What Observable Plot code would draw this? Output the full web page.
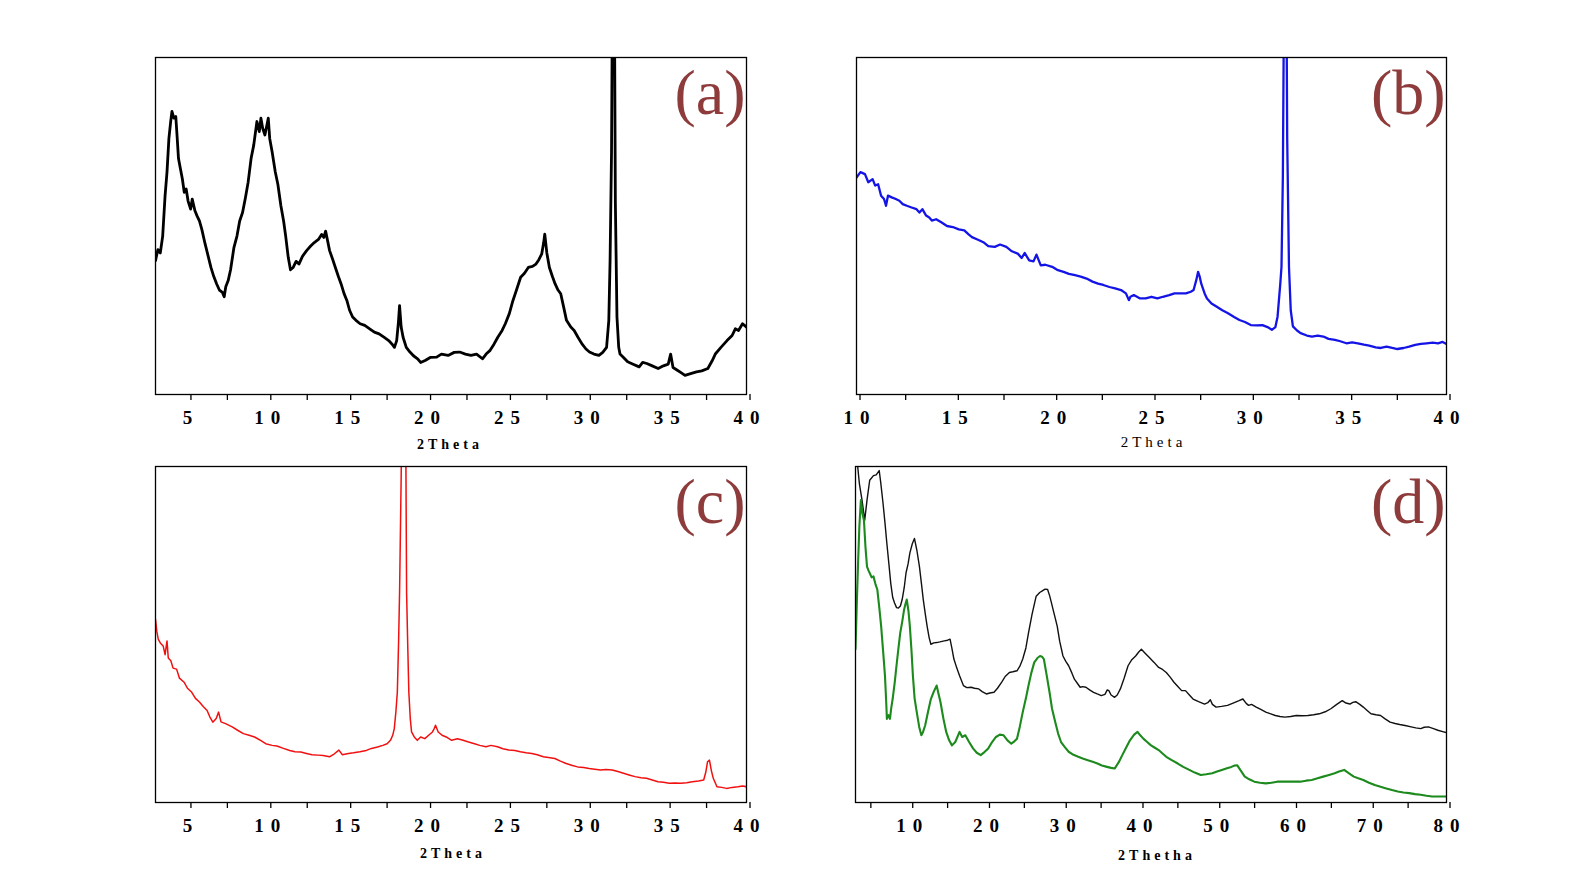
<!DOCTYPE html>
<html><head><meta charset="utf-8">
<script src="https://cdn.jsdelivr.net/npm/d3@7"></script>
<script src="https://cdn.jsdelivr.net/npm/@observablehq/plot@0.6"></script>
<style>
html,body{margin:0;padding:0;background:#fff;}
body{width:1570px;height:884px;position:relative;overflow:hidden;}
.panel{position:absolute;}
.panel svg{overflow:visible;background:transparent;}
.panel g[aria-label="x-axis tick label"] text{letter-spacing:7px;}
.panel g[aria-label="x-axis tick"]{stroke-width:1.3px;}
</style></head><body>
<div id="pa" class="panel"></div>
<div id="pb" class="panel"></div>
<div id="pc" class="panel"></div>
<div id="pd" class="panel"></div>
<script>
// ---------- Data (2θ in degrees, intensity in arbitrary units, 0–100 = frame height) ----------
const twoThetaA = [3.0,3.15,3.3,3.45,3.6,3.72,3.84,3.95,4.03,4.15,4.27,4.36,4.44,4.56,4.68,4.8,4.92,5.04,5.2,5.3,5.47,5.6,5.75,5.9,6.11,6.3,6.47,6.65,6.83,7.0,7.19,7.3,7.4,7.55,7.7,7.91,8.1,8.27,8.45,8.63,8.8,8.99,9.15,9.35,9.5,9.6,9.71,9.85,10.06,10.15,10.3,10.5,10.66,10.85,11.02,11.15,11.31,11.45,11.62,11.8,11.98,12.2,12.46,12.7,12.94,13.2,13.4,13.54,13.65,13.9,14.1,14.26,14.45,14.62,14.8,14.98,15.15,15.34,15.55,15.81,16.1,16.41,16.7,17.0,17.3,17.6,17.8,17.96,18.1,18.2,18.28,18.38,18.5,18.7,18.93,19.15,19.41,19.6,19.88,20.2,20.6,20.9,21.32,21.7,22.04,22.4,22.75,23.1,23.47,23.7,23.95,24.2,24.43,24.7,24.9,25.15,25.38,25.6,25.86,26.1,26.34,26.6,26.82,27.0,27.18,27.3,27.37,27.5,27.66,27.85,28.02,28.2,28.37,28.55,28.73,29.0,29.21,29.45,29.69,29.95,30.17,30.45,30.76,31.0,31.24,31.38,31.46,31.55,31.62,31.72,31.79,31.89,32.0,32.08,32.3,32.56,32.9,33.28,33.5,33.76,34.1,34.47,34.8,35.1,35.25,35.4,35.67,35.9,36.15,36.5,36.87,37.2,37.58,37.85,38.06,38.4,38.78,39.1,39.3,39.5,39.75,40.0];
const intensityA = [39.7,43,42,47,59,66,76,81,84,82,82.5,76,70,67,64,60,61,57.4,55,58,54.5,53,51.5,49,44.6,41,37.7,35,32.8,31,30.3,29,32,33.8,37,43.6,47,51.5,54,58.4,63,70.2,74,81,78,82,79,77,82,76,72,66,62.4,56,51.5,47,40.7,37,37.7,39.5,38.7,41,42.7,44,45.1,46,47.5,46.6,48.5,42.7,40,37.7,35,32.8,30,27.9,25,23,22,21,20.5,19.5,18.5,18,17,16,15,14,16,21,26.4,20,17,14,12.6,11.5,10.6,9.5,10.1,11,11.1,12,11.6,12.5,12.6,12,11.6,12,10.6,12,13.1,15,17,19,21,24,27.9,31,34.8,36,37.7,38,38.7,40,41.7,45,47.6,42,37.7,35,32.8,31,29.9,26,22,20,19,17,15.1,13.5,12.6,12,11.6,12.5,14,22,40,72,130,130,57,23,14,12,11,9.7,9,8.2,9.5,9.2,8.5,7.7,8.5,9,12,8,7.2,6.5,5.7,6.2,6.7,7,7.7,10,12.1,14,16,17.5,19.5,19,21,20];

const twoThetaB = [10.0,10.2,10.43,10.6,10.82,10.95,11.1,11.25,11.4,11.5,11.6,11.79,12.0,12.18,12.35,12.56,12.8,13.05,13.2,13.35,13.54,13.7,13.83,14.05,14.31,14.6,14.9,15.2,15.48,15.7,15.87,16.15,16.45,16.7,17.03,17.3,17.62,17.9,18.2,18.4,18.55,18.78,19.0,19.15,19.37,19.6,19.95,20.2,20.53,20.8,21.11,21.4,21.7,22.0,22.28,22.55,22.86,23.15,23.45,23.7,23.85,23.93,24.1,24.42,24.7,25.0,25.3,25.58,25.9,26.17,26.45,26.75,27.0,27.14,27.28,27.37,27.45,27.53,27.7,27.82,28.05,28.3,28.6,28.89,29.2,29.47,29.75,30.05,30.35,30.64,30.9,31.12,31.3,31.41,31.55,31.61,31.68,31.74,31.86,31.9,31.95,31.99,32.08,32.19,32.4,32.58,32.9,33.16,33.45,33.74,34.0,34.33,34.6,34.91,35.2,35.49,35.8,36.07,36.4,36.66,36.95,37.24,37.5,37.82,38.1,38.41,38.7,38.99,39.3,39.57,39.8,40.0];
const intensityB = [64.4,66,65.4,63,63.9,62,62.4,59,58,56,59,58.5,58,57.5,56.5,56,55.5,55,54,55,53.1,52.5,51.6,52,51.1,50,49.7,49,48.7,47.5,46.7,46,45.2,44,43.8,44.5,43.8,42.5,41.8,40.5,42,39.8,39.5,41.5,38.3,38.5,37.9,37,36.4,35.8,35.4,35,34.4,33.5,32.9,32.5,31.9,31.5,31,30,28,29,29.5,28.5,28.5,29,28.5,29,29.5,30,30,30,30.5,31,34,36.4,35,32.9,30,28.5,27,26.1,25,24.1,23,22.1,21.5,20.6,20.5,20.6,20,19.2,20,23.1,33,37.9,65,120,120,76,55,37.9,25,20.2,19,18.2,17.5,17.2,17.5,17.2,16.5,16.2,15.8,15.2,15.5,15.2,14.8,14.5,14,13.8,14.2,13.8,13.5,13.8,14.2,14.7,15,15.2,15.4,15.2,15.6,15];

const twoThetaC = [3.0,3.08,3.17,3.3,3.48,3.6,3.72,3.8,3.96,4.1,4.32,4.5,4.79,5.0,5.27,5.5,5.75,6.0,6.23,6.4,6.59,6.8,6.95,7.1,7.42,7.8,8.14,8.5,8.86,9.2,9.58,9.9,10.3,10.6,11.01,11.4,11.73,12.1,12.45,12.8,13.17,13.5,13.89,14.2,14.48,14.7,15.08,15.4,15.8,16.2,16.52,16.9,17.23,17.5,17.71,17.85,17.95,18.05,18.14,18.22,18.28,18.38,18.45,18.65,18.72,18.8,18.86,18.95,19.03,19.2,19.39,19.6,19.86,20.1,20.34,20.45,20.53,20.7,20.94,21.2,21.54,21.9,22.26,22.6,22.97,23.3,23.69,24.0,24.41,24.75,25.12,25.5,25.84,26.2,26.56,26.9,27.28,27.6,28.0,28.35,28.71,29.1,29.43,29.8,30.15,30.5,30.87,31.2,31.59,31.95,32.3,32.65,33.02,33.4,33.74,34.1,34.46,34.8,35.17,35.5,35.89,36.25,36.61,37.0,37.32,37.45,37.56,37.68,37.8,37.92,38.15,38.45,38.75,39.1,39.47,39.75,40.0];
const intensityC = [54.5,51,48.6,47.5,46.6,44,48.1,43,42.2,40,39.7,37,35.8,34,32.8,31,29.9,28.5,27.4,25.5,23.9,25,26.9,24,23.4,22.5,21.5,20.5,20,19.5,18.5,17.5,17,16.8,16.1,15.5,15.1,15,14.6,14.2,14.1,14,13.6,14.5,15.6,14.2,14.6,14.8,15.1,15.5,16.1,16.5,17,17.5,18.5,20,22,27,32.8,48,62.4,96.8,125,125,62.4,45,32.8,25,21,19.5,18.5,19.5,19,20,21,22,23,21,20,19.5,18.5,19,18.5,18,17.5,17,16.6,17,16.6,16,15.6,15.5,15.1,14.8,14.6,14.2,13.6,13.4,13.1,12.3,11.6,11,10.6,10.4,10.1,9.9,9.7,9.8,9.7,9.2,8.7,8.2,7.7,7.4,7.2,6.7,6.2,6,5.7,5.8,5.7,5.9,6.2,6.4,6.7,9,12.1,12.6,9.5,7.2,4.7,4.5,4.2,4.5,4.7,4.9,4.7];

const twoThetaD1 = [3.2,3.5,3.85,4.2,4.5,4.85,5.34,5.7,6.09,6.3,6.59,6.85,7.09,7.35,7.59,7.85,8.09,8.35,8.59,8.85,9.08,9.35,9.58,9.85,10.08,10.4,10.68,11.0,11.33,11.6,11.83,12.1,12.33,12.6,12.82,13.2,13.57,14.0,14.57,15.0,15.32,15.55,15.82,16.2,16.56,17.06,17.5,18.06,18.5,19.06,19.5,20.05,20.5,21.05,21.5,22.05,22.5,23.05,23.5,24.04,24.4,24.79,25.2,25.54,26.0,26.54,27.0,27.29,27.7,28.03,28.3,28.53,28.9,29.28,29.6,30.03,30.4,30.77,31.2,31.52,31.9,32.27,32.6,33.02,33.5,34.02,34.5,35.02,35.5,35.8,36.01,36.3,36.76,37.1,37.51,38.0,38.51,39.0,39.5,39.9,40.25,40.7,41.25,41.9,42.5,43.0,43.49,44.0,44.49,45.0,45.49,45.99,46.5,46.98,47.7,48.48,48.9,49.23,49.5,49.98,50.7,51.47,52.2,52.97,53.47,53.9,54.21,54.6,55.21,55.8,56.46,57.1,57.7,58.3,58.95,59.7,60.44,61.2,61.94,62.7,63.43,64.2,64.93,65.7,66.42,66.9,67.42,67.8,68.17,68.7,69.16,69.7,70.16,70.8,71.41,72.0,72.65,73.3,73.9,74.6,75.39,76.0,76.64,77.1,77.64,78.3,78.88,79.5,80.0];
const intensityD1 = [102,95,90,84,90,95.9,97.3,97.5,98.8,95,89,83,77,71,65.3,61,59.4,58,57.9,58.5,60.4,64,68.3,71,74.2,77,78.6,75,70.2,65,60.4,56,52.5,49,47.1,47.5,47.6,47.8,48.1,48.3,48.6,46,42.7,40,37.7,34.8,34.2,34.3,34,33.8,33,32.3,32.6,32.8,34,35.8,37.5,38.7,38.9,39.2,40.5,42.7,46,50.5,56,61.4,62.5,62.9,63.5,63.4,61.5,59.4,56,52.5,48,43.6,42,40.7,38.5,36.7,35.5,34.3,34.5,34.3,33.5,32.8,32.3,31.8,32.2,33.5,33.3,32,31.3,32,33.8,37,40.7,42.5,43.6,44.8,45.6,44.5,43.2,41.7,40.2,39.6,38.7,37.3,35.8,34.5,33.3,33.3,32,30.8,30,29.3,29.7,30.6,29.2,28.4,28.6,28.9,29.6,30.3,30.8,29.5,28.9,29.2,28.4,27.7,26.9,26.4,25.9,25.6,25.4,25.6,25.9,25.8,25.9,26.1,26.4,27,27.9,29.2,30.3,29.6,29.3,29.8,30,29.2,28.4,27.3,26.4,26.1,25.9,24.9,23.9,23.5,23.2,22.9,22.5,22.2,22,22.4,22.5,22,21.5,21.1,20.8];

const twoThetaD2 = [3.0,3.18,3.35,3.5,3.7,3.9,4.1,4.3,4.5,4.7,4.85,5.1,5.34,5.6,5.84,6.1,6.34,6.6,6.84,7.0,7.09,7.3,7.49,7.65,7.84,8.1,8.34,8.6,8.83,9.1,9.33,9.5,9.68,9.9,10.08,10.3,10.48,10.7,10.98,11.3,11.58,11.8,12.08,12.45,12.82,13.2,13.57,13.8,14.07,14.45,14.82,15.2,15.57,16.0,16.56,16.9,17.31,17.8,18.31,18.8,19.31,19.8,20.3,20.8,21.3,21.8,22.3,22.8,23.3,23.7,24.04,24.4,24.79,25.2,25.54,25.9,26.29,26.7,27.04,27.3,27.54,27.9,28.28,28.6,29.03,29.4,29.78,30.3,30.77,31.4,32.02,32.6,33.27,33.9,34.52,35.1,35.76,36.3,36.76,37.3,37.76,38.3,38.76,39.3,39.75,40.1,40.5,41.0,41.5,42.0,42.5,43.0,43.49,44.2,44.99,45.7,46.49,47.2,47.98,48.7,49.48,50.1,50.73,51.4,51.97,52.4,52.72,53.2,53.72,54.3,54.96,55.7,56.46,57.2,57.95,58.7,59.45,60.2,60.94,61.7,62.44,63.2,63.93,64.7,65.43,66.0,66.67,67.3,67.92,68.5,69.16,69.9,70.66,71.4,72.15,72.9,73.65,74.4,75.14,75.9,76.64,77.4,78.13,79.0,80.0];
const intensityD2 = [45.6,60,72.2,82,90,86,84,76,70.2,69,68.3,67,67.3,65,63.4,58,52.5,45,37.7,30,24.9,26,24.9,28,30.8,35.5,40.7,46,50.5,54,57.4,59,60.4,57,52.5,45,37.7,31,26.9,22.5,20,21,23,27,30.8,33,34.8,32.5,29.9,25,21,18.5,17,18,21,19.5,20,18,16.1,14.8,14.1,15,16.1,18,19.5,20.2,20,18.5,17.5,18.2,19,22.5,26.9,31,34.8,38.5,41.7,43,43.6,43.4,42.7,38,32.8,28,23.9,20.5,18,16.4,15.1,14.2,13.6,13.1,12.6,12.1,11.6,11,10.6,10.3,10.1,12,14.1,16.5,18.5,20.2,21,20,19,18,17,16.3,15.6,14.6,13.6,12.6,11.6,10.6,9.7,8.9,8.2,8.4,8.7,9.2,9.7,10.2,10.6,11,11.1,9.5,7.7,6.9,6.2,5.9,5.7,5.9,6.2,6.2,6.2,6.2,6.2,6.5,6.7,7.2,7.7,8.2,8.7,9.2,9.7,8.7,7.7,7.2,6.7,5.9,5.2,4.7,4.2,3.7,3.3,3.0,2.8,2.5,2.3,2.0,1.8,1.8,1.8];

const ticksAC = [5, 10, 15, 20, 25, 30, 35, 40];
const minorAC = [7.5, 12.5, 17.5, 22.5, 27.5, 32.5, 37.5];
const ticksB = [10, 15, 20, 25, 30, 35, 40];
const minorB = [12.5, 17.5, 22.5, 27.5, 32.5, 37.5];
const ticksD = [10, 20, 30, 40, 50, 60, 70, 80];
const minorD = [5, 15, 25, 35, 45, 55, 65, 75];
const panelLabels = ["(a)", "(b)", "(c)", "(d)"];
const axisTitles = ["2Theta", "2Theta", "2Theta", "2Thetha"];

// ---------- Drawing ----------
const SERIF = "'Liberation Serif', 'Times New Roman', serif";

function panel(el, cfg) {
  const host = document.getElementById(el);
  host.style.left = cfg.left + "px";
  host.style.top = cfg.top + "px";
  const marks = [];
  for (const s of cfg.series) {
    marks.push(Plot.line(s.x, {x: s.x, y: s.y, stroke: s.color, strokeWidth: s.width, clip: true, curve: "linear"}));
  }
  marks.push(Plot.frame({stroke: "#000", strokeWidth: 1.3}));
  marks.push(Plot.axisX(cfg.minor, {tickSize: 6, text: null, label: null}));
  marks.push(Plot.axisX(cfg.major, {tickSize: 6, tickPadding: 10, label: null, fontSize: 19, fontWeight: "bold", fontFamily: SERIF, fill: "#000", dx: 3.5, tickFormat: d => String(d)}));
  marks.push(Plot.text([cfg.label], {text: d => d, frameAnchor: "top-right", textAnchor: "end", lineAnchor: "bottom", dy: 56, dx: -1, fontSize: 64, fontFamily: SERIF, fill: "#8E3B3B"}));
  marks.push(Plot.text([cfg.title], {text: d => d, frameAnchor: "bottom", lineAnchor: "bottom", dy: cfg.titleDy, dx: cfg.titleDx + 2, fontSize: cfg.titleBold ? 14 : 15, fontWeight: cfg.titleBold ? "bold" : "normal", fontFamily: SERIF, fill: "#000"}));
  const svg = Plot.plot({
    width: cfg.width, height: cfg.height,
    marginLeft: cfg.ml, marginRight: cfg.width - cfg.ml - cfg.fw,
    marginTop: cfg.mt, marginBottom: cfg.height - cfg.mt - cfg.fh,
    x: {domain: cfg.domain},
    y: {domain: [0, 100], axis: null},
    style: {background: "transparent", fontFamily: SERIF},
    marks
  });
  host.appendChild(svg);
  d3.select(svg).selectAll("text").filter(function() { return this.textContent === cfg.title; })
    .style("letter-spacing", "4px");
}

panel("pa", {left: 95, top: 37, width: 700, height: 440, ml: 60, mt: 20, fw: 591, fh: 337,
  domain: [3, 40], major: ticksAC, minor: minorAC, label: panelLabels[0], title: axisTitles[0], titleBold: true, titleDy: 54, titleDx: -3,
  series: [{x: twoThetaA, y: intensityA, color: "#000", width: 2.8}]});
panel("pb", {left: 796, top: 37, width: 700, height: 440, ml: 60, mt: 20, fw: 590, fh: 337,
  domain: [10, 40], major: ticksB, minor: minorB, label: panelLabels[1], title: axisTitles[1], titleBold: false, titleDy: 52, titleDx: 0,
  series: [{x: twoThetaB, y: intensityB, color: "#1414E6", width: 2.3}]});
panel("pc", {left: 95, top: 446, width: 700, height: 438, ml: 60, mt: 20, fw: 591, fh: 336,
  domain: [3, 40], major: ticksAC, minor: minorAC, label: panelLabels[2], title: axisTitles[2], titleBold: true, titleDy: 55, titleDx: 0,
  series: [{x: twoThetaC, y: intensityC, color: "#F01010", width: 1.5}]});
panel("pd", {left: 795, top: 446, width: 700, height: 438, ml: 60, mt: 20, fw: 591, fh: 336,
  domain: [3, 80], major: ticksD, minor: minorD, label: panelLabels[3], title: axisTitles[3], titleBold: true, titleDy: 57, titleDx: 4,
  series: [{x: twoThetaD1, y: intensityD1, color: "#111", width: 1.4}, {x: twoThetaD2, y: intensityD2, color: "#1C8A1C", width: 2.1}]});
</script>
</body></html>
